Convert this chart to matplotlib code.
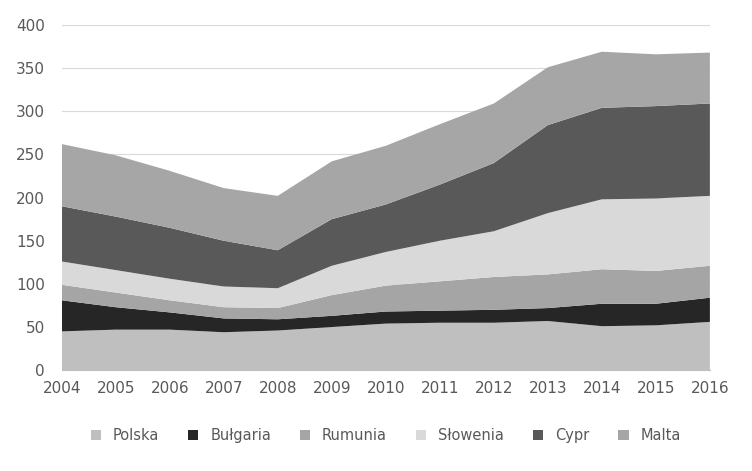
import matplotlib
matplotlib.use('Agg')
from matplotlib import pyplot as plt
import numpy as np

years = list(range(2004, 2017))
# cumulative tops, converted to per-series values below
cum_polska = [45, 47, 47, 44, 46, 50, 54, 55, 55, 57, 51, 52, 56]
cum_bulgaria = [81, 73, 67, 60, 59, 63, 68, 69, 70, 72, 77, 77, 84]
cum_rumunia = [99, 90, 81, 73, 72, 87, 98, 103, 108, 111, 117, 115, 121]
cum_slowenia = [126, 116, 106, 97, 95, 121, 137, 150, 161, 182, 198, 199, 202]
cum_cypr = [190, 178, 165, 150, 139, 175, 192, 215, 240, 284, 304, 306, 309]
cum_malta = [262, 249, 231, 211, 202, 242, 260, 285, 309, 351, 369, 366, 368]

labels = ['Polska', 'Bułgaria', 'Rumunia', 'Słowenia', 'Cypr', 'Malta']
colors = ['#bfbfbf', '#262626', '#a5a5a5', '#d9d9d9', '#595959', '#a6a6a6']

cums = np.array([cum_polska, cum_bulgaria, cum_rumunia, cum_slowenia, cum_cypr, cum_malta])
values = np.diff(np.vstack([np.zeros(len(years)), cums]), axis=0)

fig, ax = plt.subplots(figsize=(7.52, 4.71), dpi=100)
ax.stackplot(years, values, labels=labels, colors=colors)

ax.set_xlim(2004, 2016)
ax.set_ylim(0, 400)
ax.set_xticks(years)
ax.set_yticks(range(0, 401, 50))
ax.grid(axis='y', color='#d9d9d9', linewidth=0.8)
ax.set_axisbelow(True)
for s in ['top', 'right', 'left']:
    ax.spines[s].set_visible(False)
ax.spines['bottom'].set_color('#bfbfbf')
ax.tick_params(length=0, labelsize=11, colors='#595959')
ax.tick_params(axis='y', pad=12)
ax.tick_params(axis='x', pad=8)

ax.legend(loc='upper center', bbox_to_anchor=(0.5, -0.13), ncol=6, frameon=False,
          fontsize=10.5, handlelength=0.7, handleheight=0.7, labelcolor='#595959')

plt.subplots_adjust(left=0.082, right=0.944, top=0.947, bottom=0.214)
plt.savefig('out.png')
